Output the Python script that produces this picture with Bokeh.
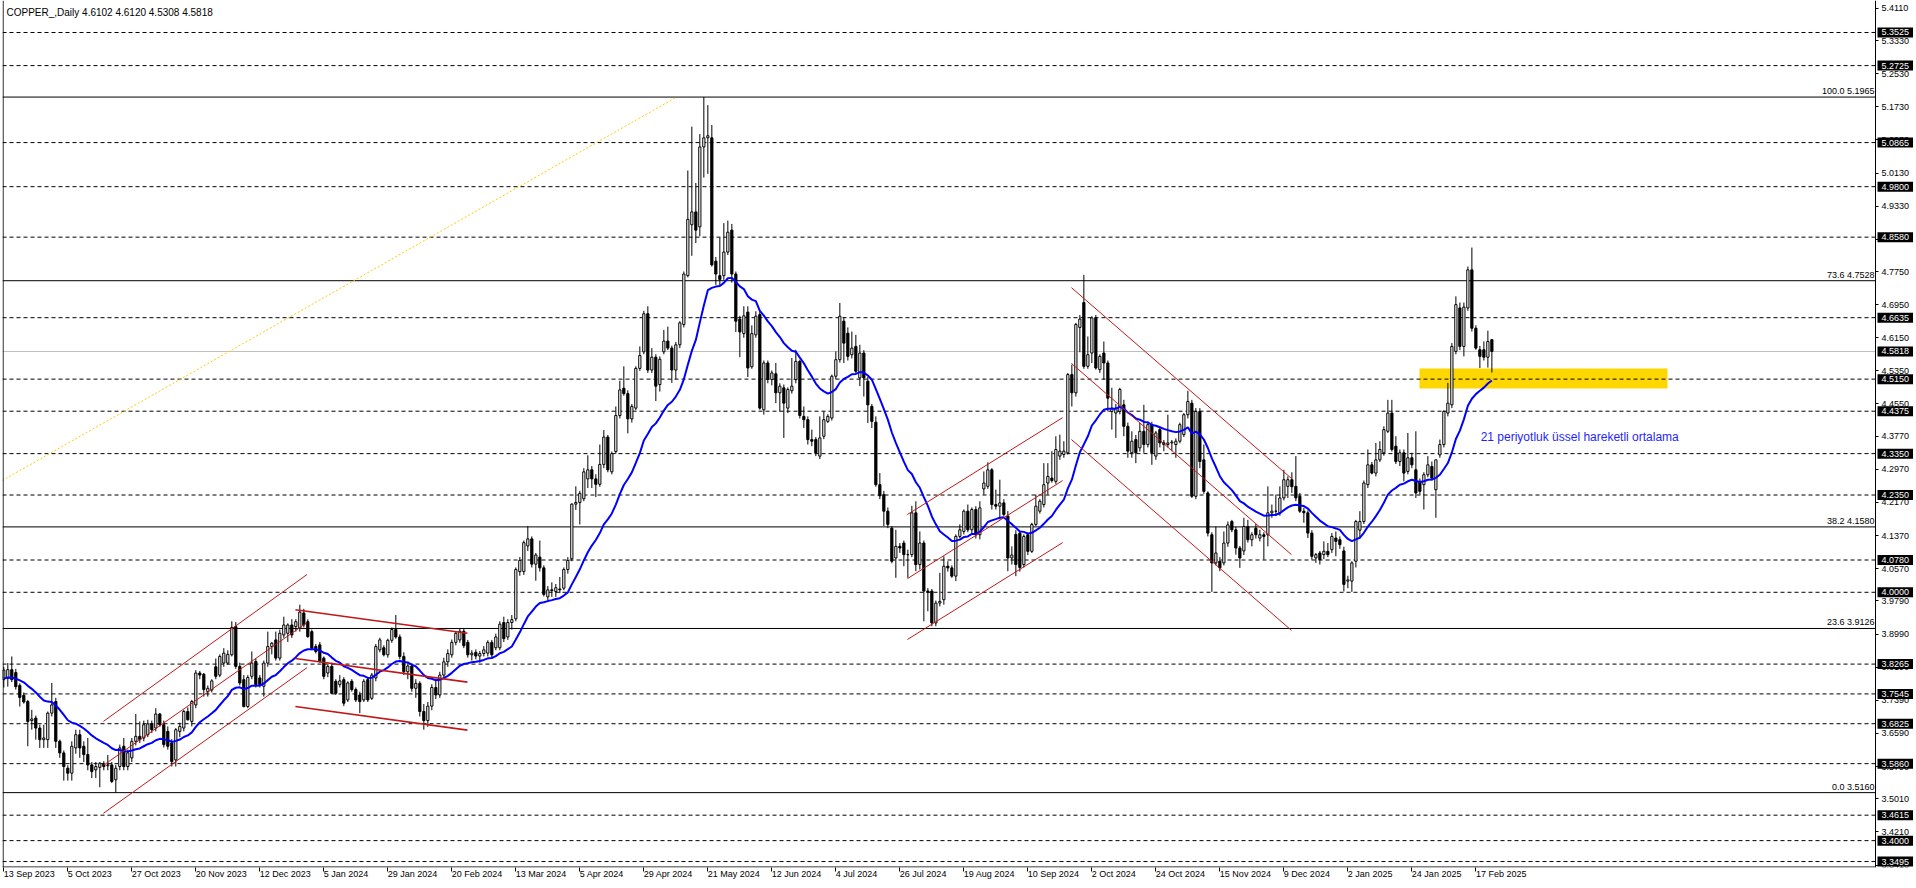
from bokeh.plotting import figure
from bokeh.models import (Range1d, LinearAxis, FixedTicker, Span, Label,
                          ColumnDataSource, NumeralTickFormatter, AllLabels)
from bokeh.core.properties import value
from bokeh.embed import file_html
from bokeh.resources import INLINE

TITLE = "COPPER_,Daily  4.6102 4.6120 4.5308 4.5818"
EMA_TEXT = "21 periyotluk üssel hareketli ortalama"

OPEN = [
3.789,3.792,3.813,3.806,3.775,3.751,3.736,3.690,3.696,3.672,
3.644,3.644,3.708,3.736,3.640,3.612,3.575,3.563,3.624,3.656,
3.628,3.608,3.583,3.571,3.577,3.585,3.581,3.583,3.547,3.579,
3.628,3.579,3.600,3.640,3.652,3.648,3.656,3.682,3.672,3.706,
3.680,3.664,3.636,3.595,3.664,3.672,3.712,3.688,3.728,3.805,
3.802,3.760,3.764,3.820,3.800,3.829,3.829,3.849,3.917,3.821,
3.789,3.724,3.797,3.833,3.793,3.773,3.829,3.869,3.885,3.841,
3.897,3.901,3.921,3.917,3.913,3.950,3.929,3.905,3.869,3.873,
3.841,3.805,3.821,3.785,3.777,3.789,3.740,3.785,3.765,3.752,
3.740,3.789,3.744,3.793,3.861,3.866,3.849,3.884,3.910,3.892,
3.845,3.808,3.822,3.768,3.780,3.712,3.690,3.725,3.770,3.752,
3.800,3.832,3.849,3.879,3.885,3.906,3.879,3.849,3.855,3.846,
3.852,3.853,3.879,3.866,3.866,3.927,3.892,3.927,3.936,4.050,
4.050,4.112,4.129,4.068,4.085,4.059,3.989,4.006,4.002,4.008,
4.010,4.055,4.081,4.213,4.217,4.226,4.274,4.296,4.274,4.261,
4.309,4.375,4.291,4.340,4.427,4.493,4.480,4.419,4.445,4.541,
4.581,4.673,4.537,4.568,4.502,4.581,4.607,4.590,4.537,4.598,
4.647,4.765,4.888,4.919,4.883,5.076,5.098,5.098,4.800,4.765,
4.765,4.822,4.875,4.769,4.660,4.625,4.677,4.545,4.622,4.671,
4.441,4.554,4.514,4.528,4.482,4.494,4.445,4.487,4.514,4.558,
4.425,4.417,4.369,4.369,4.329,4.377,4.413,4.421,4.522,4.562,
4.655,4.626,4.574,4.594,4.518,4.578,4.510,4.449,4.411,4.260,
4.236,4.196,4.155,4.083,4.111,4.119,4.091,4.091,4.192,4.067,
4.119,4.003,4.003,3.926,3.974,3.982,4.063,4.059,4.039,4.135,
4.147,4.196,4.151,4.200,4.139,4.250,4.256,4.296,4.212,4.208,
4.216,4.184,4.083,4.140,4.143,4.067,4.139,4.099,4.164,4.196,
4.212,4.264,4.276,4.268,4.329,4.333,4.337,4.526,4.482,4.640,
4.700,4.546,4.578,4.663,4.538,4.578,4.554,4.437,4.433,4.437,
4.453,4.401,4.337,4.369,4.349,4.389,4.357,4.405,4.329,4.393,
4.361,4.357,4.361,4.357,4.365,4.381,4.429,4.457,4.232,4.437,
4.320,4.240,4.139,4.071,4.075,4.071,4.119,4.171,4.151,4.107,
4.100,4.159,4.127,4.155,4.131,4.139,4.139,4.192,4.196,4.192,
4.228,4.256,4.272,4.256,4.232,4.196,4.192,4.143,4.083,4.095,
4.091,4.099,4.103,4.131,4.127,4.100,4.027,4.027,4.075,4.150,
4.171,4.260,4.308,4.288,4.320,4.337,4.389,4.433,4.353,4.316,
4.337,4.292,4.325,4.296,4.268,4.260,4.284,4.304,4.248,4.332,
4.357,4.433,4.453,4.582,4.687,4.594,4.687,4.779,4.638,4.586,
4.586,4.568,4.6102]

HIGH = [
3.820,3.829,3.845,3.815,3.780,3.758,3.740,3.716,3.702,3.680,
3.680,3.712,3.781,3.745,3.644,3.618,3.582,3.640,3.668,3.668,
3.640,3.648,3.590,3.590,3.590,3.592,3.607,3.590,3.583,3.632,
3.648,3.620,3.648,3.706,3.688,3.690,3.692,3.690,3.720,3.708,
3.690,3.676,3.645,3.672,3.685,3.716,3.722,3.740,3.812,3.810,
3.805,3.775,3.790,3.840,3.850,3.865,3.860,3.930,3.928,3.830,
3.800,3.800,3.857,3.840,3.800,3.835,3.905,3.880,3.905,3.910,
3.941,3.925,3.935,3.935,3.970,3.960,3.935,3.910,3.875,3.880,
3.845,3.825,3.830,3.790,3.800,3.795,3.785,3.790,3.770,3.760,
3.790,3.795,3.805,3.875,3.890,3.872,3.888,3.915,3.945,3.898,
3.855,3.830,3.828,3.790,3.785,3.730,3.735,3.778,3.790,3.808,
3.842,3.862,3.886,3.905,3.912,3.912,3.885,3.860,3.862,3.858,
3.870,3.884,3.885,3.900,3.930,3.941,3.935,3.945,4.060,4.085,
4.125,4.160,4.135,4.095,4.125,4.065,4.015,4.024,4.020,4.037,
4.060,4.085,4.215,4.256,4.245,4.300,4.331,4.305,4.285,4.357,
4.392,4.380,4.340,4.449,4.511,4.546,4.488,4.455,4.546,4.594,
4.680,4.691,4.590,4.575,4.570,4.634,4.642,4.596,4.605,4.655,
4.775,5.019,5.125,4.989,5.107,5.1965,5.177,5.129,4.810,4.857,
4.892,4.898,4.890,4.775,4.668,4.691,4.691,4.645,4.679,4.680,
4.560,4.560,4.536,4.554,4.505,4.502,4.495,4.566,4.586,4.562,
4.449,4.425,4.393,4.375,4.425,4.437,4.430,4.526,4.582,4.699,
4.665,4.640,4.630,4.622,4.598,4.585,4.520,4.455,4.425,4.288,
4.245,4.205,4.160,4.151,4.119,4.125,4.103,4.209,4.220,4.147,
4.125,4.010,4.008,3.980,4.047,4.087,4.075,4.065,4.140,4.164,
4.200,4.212,4.205,4.208,4.220,4.292,4.314,4.300,4.248,4.272,
4.225,4.196,4.111,4.150,4.147,4.140,4.145,4.168,4.236,4.225,
4.312,4.312,4.341,4.377,4.381,4.365,4.530,4.550,4.651,4.670,
4.767,4.618,4.667,4.670,4.575,4.606,4.560,4.494,4.455,4.494,
4.465,4.410,4.389,4.380,4.409,4.453,4.410,4.412,4.390,4.400,
4.368,4.429,4.368,4.372,4.410,4.433,4.487,4.465,4.445,4.445,
4.357,4.244,4.145,4.159,4.085,4.147,4.171,4.175,4.158,4.112,
4.180,4.175,4.145,4.165,4.151,4.145,4.256,4.212,4.236,4.256,
4.296,4.280,4.290,4.329,4.240,4.204,4.198,4.150,4.095,4.100,
4.123,4.119,4.143,4.147,4.135,4.110,4.040,4.075,4.175,4.196,
4.270,4.345,4.315,4.361,4.365,4.401,4.465,4.465,4.377,4.345,
4.345,4.385,4.337,4.389,4.275,4.290,4.329,4.316,4.320,4.369,
4.440,4.506,4.602,4.715,4.700,4.700,4.787,4.833,4.645,4.595,
4.606,4.632,4.6120]

LOW = [
3.770,3.772,3.783,3.765,3.724,3.731,3.628,3.668,3.644,3.624,
3.624,3.624,3.700,3.624,3.600,3.545,3.545,3.545,3.610,3.600,
3.590,3.570,3.551,3.551,3.529,3.570,3.570,3.539,3.516,3.570,
3.570,3.570,3.590,3.630,3.636,3.640,3.650,3.660,3.664,3.675,
3.625,3.620,3.579,3.579,3.650,3.664,3.690,3.676,3.720,3.790,
3.748,3.748,3.758,3.790,3.795,3.820,3.825,3.845,3.815,3.775,
3.722,3.720,3.790,3.770,3.770,3.748,3.820,3.850,3.835,3.835,
3.890,3.880,3.890,3.905,3.905,3.915,3.890,3.860,3.852,3.830,
3.790,3.795,3.755,3.752,3.770,3.725,3.735,3.760,3.735,3.708,
3.735,3.735,3.740,3.785,3.855,3.845,3.842,3.878,3.888,3.838,
3.800,3.790,3.760,3.745,3.700,3.668,3.675,3.715,3.742,3.745,
3.792,3.820,3.842,3.872,3.878,3.865,3.842,3.835,3.838,3.830,
3.845,3.845,3.842,3.860,3.860,3.880,3.885,3.910,3.930,4.040,
4.042,4.100,4.060,4.028,4.050,3.990,3.980,3.989,3.989,3.998,
4.005,4.045,4.075,4.199,4.164,4.220,4.252,4.252,4.230,4.255,
4.300,4.290,4.285,4.335,4.420,4.475,4.384,4.410,4.440,4.535,
4.575,4.530,4.530,4.462,4.485,4.575,4.585,4.506,4.515,4.590,
4.640,4.761,4.813,4.844,4.860,5.002,5.011,4.787,4.743,4.741,
4.755,4.815,4.748,4.629,4.568,4.615,4.520,4.540,4.615,4.441,
4.429,4.505,4.500,4.457,4.437,4.373,4.433,4.480,4.505,4.420,
4.397,4.357,4.353,4.329,4.322,4.370,4.409,4.415,4.515,4.555,
4.554,4.560,4.565,4.530,4.498,4.473,4.409,4.397,4.255,4.225,
4.160,4.155,4.070,4.035,4.095,4.063,4.035,4.085,4.051,4.055,
3.930,3.954,3.918,3.918,3.966,3.970,4.050,4.035,4.027,4.130,
4.140,4.145,4.140,4.130,4.128,4.236,4.250,4.200,4.200,4.176,
4.184,4.051,4.067,4.039,4.050,4.060,4.090,4.095,4.160,4.190,
4.205,4.236,4.265,4.262,4.320,4.325,4.333,4.449,4.473,4.580,
4.540,4.540,4.554,4.538,4.530,4.514,4.437,4.393,4.373,4.430,
4.377,4.325,4.325,4.312,4.340,4.337,4.350,4.308,4.320,4.350,
4.341,4.350,4.341,4.325,4.360,4.375,4.420,4.228,4.225,4.300,
4.238,4.135,4.001,4.065,4.051,4.065,4.110,4.145,4.091,4.059,
4.090,4.120,4.111,4.130,4.123,4.079,4.111,4.180,4.184,4.185,
4.222,4.228,4.240,4.220,4.192,4.168,4.131,4.079,4.071,4.067,
4.080,4.085,4.095,4.087,4.105,4.002,4.010,4.001,4.060,4.130,
4.165,4.252,4.285,4.280,4.315,4.330,4.385,4.340,4.310,4.305,
4.268,4.285,4.300,4.228,4.236,4.200,4.278,4.270,4.180,4.325,
4.350,4.425,4.445,4.575,4.585,4.570,4.680,4.630,4.586,4.542,
4.560,4.543,4.5308]

CLOSE = [
3.812,3.813,3.789,3.772,3.746,3.735,3.688,3.694,3.672,3.644,
3.648,3.708,3.728,3.640,3.612,3.579,3.563,3.628,3.656,3.624,
3.608,3.583,3.567,3.579,3.587,3.579,3.583,3.543,3.575,3.624,
3.579,3.612,3.640,3.652,3.644,3.680,3.682,3.668,3.706,3.680,
3.632,3.628,3.591,3.668,3.676,3.712,3.692,3.736,3.805,3.800,
3.765,3.768,3.786,3.797,3.845,3.853,3.850,3.915,3.821,3.781,
3.724,3.794,3.829,3.777,3.777,3.829,3.869,3.877,3.841,3.901,
3.921,3.921,3.897,3.929,3.952,3.921,3.893,3.865,3.857,3.833,
3.797,3.821,3.756,3.756,3.786,3.732,3.781,3.765,3.740,3.736,
3.785,3.740,3.800,3.869,3.885,3.849,3.884,3.910,3.892,3.845,
3.808,3.822,3.768,3.780,3.712,3.690,3.725,3.770,3.752,3.800,
3.832,3.852,3.879,3.901,3.906,3.871,3.849,3.853,3.846,3.852,
3.861,3.879,3.849,3.892,3.923,3.888,3.927,3.934,4.055,4.077,
4.120,4.129,4.068,4.090,4.059,3.995,4.006,4.004,4.011,4.006,
4.055,4.077,4.213,4.217,4.239,4.291,4.296,4.274,4.261,4.309,
4.375,4.296,4.335,4.427,4.489,4.480,4.419,4.449,4.541,4.572,
4.673,4.537,4.568,4.498,4.563,4.607,4.590,4.537,4.598,4.651,
4.769,4.901,4.919,4.875,5.076,5.098,5.103,4.791,4.769,4.756,
4.822,4.870,4.769,4.655,4.629,4.668,4.542,4.625,4.667,4.445,
4.554,4.514,4.530,4.482,4.498,4.457,4.490,4.498,4.558,4.427,
4.417,4.369,4.365,4.337,4.373,4.417,4.425,4.522,4.562,4.667,
4.602,4.570,4.590,4.534,4.578,4.518,4.453,4.413,4.260,4.233,
4.196,4.164,4.075,4.111,4.107,4.091,4.091,4.192,4.067,4.119,
4.003,4.000,3.926,3.974,3.978,4.063,4.059,4.039,4.135,4.151,
4.196,4.151,4.200,4.139,4.204,4.264,4.296,4.212,4.208,4.216,
4.188,4.083,4.090,4.067,4.060,4.135,4.099,4.164,4.208,4.220,
4.260,4.280,4.270,4.345,4.341,4.341,4.526,4.482,4.647,4.660,
4.546,4.574,4.663,4.542,4.570,4.554,4.469,4.445,4.445,4.490,
4.401,4.341,4.365,4.337,4.389,4.357,4.405,4.337,4.385,4.361,
4.357,4.361,4.363,4.365,4.405,4.429,4.461,4.232,4.437,4.316,
4.244,4.143,4.071,4.095,4.059,4.119,4.163,4.151,4.107,4.083,
4.159,4.127,4.139,4.139,4.139,4.135,4.192,4.196,4.196,4.228,
4.272,4.272,4.255,4.228,4.196,4.192,4.143,4.087,4.091,4.079,
4.099,4.091,4.135,4.123,4.115,4.019,4.030,4.071,4.171,4.171,
4.264,4.308,4.288,4.320,4.345,4.393,4.433,4.345,4.316,4.337,
4.288,4.325,4.308,4.240,4.244,4.284,4.308,4.276,4.320,4.357,
4.437,4.457,4.594,4.695,4.594,4.689,4.779,4.638,4.590,4.570,
4.568,4.606,4.5818]

DATE_TICKS = [0, 16, 32, 48, 64, 80, 96, 112, 128, 144, 160, 176,
              192, 208, 224, 240, 256, 272, 288, 304, 320, 336, 352, 368]
DATE_LABELS = ["13 Sep 2023", "5 Oct 2023", "27 Oct 2023", "20 Nov 2023", "12 Dec 2023",
               "5 Jan 2024", "29 Jan 2024", "20 Feb 2024", "13 Mar 2024", "5 Apr 2024",
               "29 Apr 2024", "21 May 2024", "12 Jun 2024", "4 Jul 2024", "26 Jul 2024",
               "19 Aug 2024", "10 Sep 2024", "2 Oct 2024", "24 Oct 2024", "15 Nov 2024",
               "9 Dec 2024", "2 Jan 2025", "24 Jan 2025", "17 Feb 2025"]

PRICE_TICKS = [5.4110, 5.3330, 5.2530, 5.1730, 5.0930, 5.0130, 4.9330, 4.8530, 4.7750,
               4.6950, 4.6150, 4.5350, 4.4550, 4.3770, 4.2970, 4.2170, 4.1370, 4.0570,
               3.9790, 3.8990, 3.8190, 3.7390, 3.6590, 3.5790, 3.5010, 3.4210, 3.3410]

LEVELS = [5.3525, 5.2725, 5.0865, 4.9800, 4.8580, 4.6635, 4.5150, 4.4375, 4.3350,
          4.2350, 4.0780, 4.0000, 3.8265, 3.7545, 3.6825, 3.5860, 3.4615, 3.4000, 3.3495]
BID = 4.5818

FIB_PCT = [100.0, 73.6, 38.2, 23.6, 0.0]
FIB_PRICE = [5.1965, 4.7528, 4.1580, 3.9126, 3.5160]

EMA_PERIOD = 21
EMA_SEED = 3.790

ZONE_BARS = [353.9, 415.9]
ZONE_PRICES = [4.4924, 4.5407]

# trend channels (bar index, price)
CH_X0 = [24.9, 24.9, 24.9, 72.9, 72.9, 72.9, 225.9, 225.9, 225.9, 266.9, 266.9, 266.9]
CH_X1 = [75.8, 75.8, 75.8, 115.9, 115.9, 115.9, 264.7, 264.7, 264.7, 321.9, 321.9, 321.9]
CH_Y0 = [3.688, 3.582, 3.466, 3.958, 3.840, 3.724, 4.188, 4.033, 3.886, 4.736, 4.553, 4.369]
CH_Y1 = [4.043, 3.927, 3.818, 3.901, 3.783, 3.667, 4.422, 4.270, 4.120, 4.275, 4.091, 3.908]
CH_W = [1, 1, 1, 1.6, 1.6, 1.6, 1, 1, 1, 1, 1, 1]

FIB_TREND_X = [-0.4, 168.2]
FIB_TREND_Y = [4.270, 5.1965]

FONT = "Liberation Sans"

# view window (bars / prices)
X_START, X_CHART_END, X_FRAME_END = -0.325, 467.9, 477.4
Y_BOTTOM, Y_TOP = 3.3351, 5.4298

n = len(CLOSE)
xs = list(range(n))
tops = [max(o, c) for o, c in zip(OPEN, CLOSE)]
bots = [min(o, c) for o, c in zip(OPEN, CLOSE)]
fills = ["white" if c >= o else "black" for o, c in zip(OPEN, CLOSE)]

alpha = 2.0 / (EMA_PERIOD + 1)
ema = []
prev = EMA_SEED
for c in CLOSE:
    prev = alpha * c + (1 - alpha) * prev
    ema.append(prev)

p = figure(width=1913, height=886,
           x_range=Range1d(X_START, X_FRAME_END), y_range=Range1d(Y_BOTTOM, Y_TOP),
           output_backend="svg", toolbar_location=None,
           x_axis_location=None, y_axis_location=None,
           min_border_left=2, min_border_right=0, min_border_top=0, min_border_bottom=19,
           background_fill_color="white", border_fill_color="white",
           outline_line_color=None)
for g in p.grid:
    g.visible = False

xaxis = LinearAxis(ticker=FixedTicker(ticks=DATE_TICKS, minor_ticks=[]),
                   major_label_overrides={t: s for t, s in zip(DATE_TICKS, DATE_LABELS)},
                   major_label_policy=AllLabels(),
                   major_label_orientation=-1e-6,
                   major_label_text_font=FONT,
                   major_label_text_font_size="9px", major_label_text_color="black",
                   major_label_standoff=2, major_tick_in=0, major_tick_out=4,
                   minor_tick_in=0, minor_tick_out=0,
                   axis_line_color=None, major_tick_line_color="black")
p.add_layout(xaxis, "below")

yaxis = LinearAxis(fixed_location=X_CHART_END,
                   ticker=FixedTicker(ticks=PRICE_TICKS, minor_ticks=[]),
                   formatter=NumeralTickFormatter(format="0.0000"),
                   major_label_policy=AllLabels(),
                   major_label_text_font=FONT, major_label_text_font_size="9px",
                   major_label_text_color="black", major_label_standoff=3,
                   major_tick_in=0, major_tick_out=3, minor_tick_in=0, minor_tick_out=0,
                   axis_line_color="black", major_tick_line_color="black")
p.add_layout(yaxis, "right")

# chart frame lines (left border and bottom border up to the price scale)
p.add_layout(Span(location=X_START + 0.15, dimension="height", line_color="black",
                  line_width=1))
p.segment(x0=[X_START], y0=[Y_BOTTOM + 0.0012], x1=[X_CHART_END], y1=[Y_BOTTOM + 0.0012],
          line_color="black", line_width=1)

p.quad(left=[ZONE_BARS[0]], right=[ZONE_BARS[1]], bottom=[ZONE_PRICES[0]],
       top=[ZONE_PRICES[1]], fill_color="#FFD700", line_color=None)

k = len(LEVELS)
p.segment(x0=[X_START] * k, y0=LEVELS, x1=[X_CHART_END] * k, y1=LEVELS,
          line_color="black", line_width=1, line_dash="4 3")
m = len(FIB_PRICE)
p.segment(x0=[X_START] * m, y0=FIB_PRICE, x1=[X_CHART_END] * m, y1=FIB_PRICE,
          line_color="black", line_width=1)
p.segment(x0=[X_START], y0=[BID], x1=[X_CHART_END], y1=[BID],
          line_color="#C0C0C0", line_width=1)

p.line(FIB_TREND_X, FIB_TREND_Y, line_color="#FFCC00", line_width=1, line_dash="2 2")

src = ColumnDataSource(dict(x=xs, h=HIGH, l=LOW, top=tops, bot=bots, fill=fills))
p.segment(x0="x", y0="l", x1="x", y1="h", source=src, line_color="black", line_width=1)
p.vbar(x="x", width=0.55, top="top", bottom="bot", source=src,
       fill_color="fill", line_color="black", line_width=1)

p.line(xs, ema, line_color="#0000FF", line_width=2)

p.segment(x0=CH_X0, y0=CH_Y0, x1=CH_X1, y1=CH_Y1, line_color="#C01818", line_width=CH_W)

for pct, v in zip(FIB_PCT, FIB_PRICE):
    p.add_layout(Label(x=X_CHART_END, y=v, x_offset=-1, y_offset=1,
                       text=f"{pct:.1f} {v:.4f}",
                       text_align="right", text_baseline="bottom",
                       text_font=FONT, text_font_size="9px", text_color="black"))

p.add_layout(Label(x=369.2, y=4.3764, text=EMA_TEXT, text_align="left",
                   text_baseline="alphabetic", text_font=FONT, text_font_size="12px",
                   text_color="#1F1FFF"))

p.add_layout(Label(x=X_START, y=5.4008, x_offset=4, text=TITLE, text_align="left",
                   text_baseline="alphabetic", text_font=FONT, text_font_size="10px",
                   text_color="black"))

# highlighted price tags on the price scale
tag_vals = LEVELS + [BID]
tag_txt = [f"{v:.4f}" for v in tag_vals]
box_x = X_CHART_END + 5.0
txt_x = X_CHART_END + 1.5
p.rect(x=[box_x] * len(tag_vals), y=tag_vals, width=36, height=10,
       width_units="screen", height_units="screen",
       fill_color="black", line_color=None, level="overlay")
p.text(x=[txt_x] * len(tag_vals), y=tag_vals, text=tag_txt,
       text_color="white", text_font=value(FONT), text_font_size=value("9px"),
       text_align="left", text_baseline="middle", level="overlay")

open("out.html", "w").write(file_html(p, INLINE))
